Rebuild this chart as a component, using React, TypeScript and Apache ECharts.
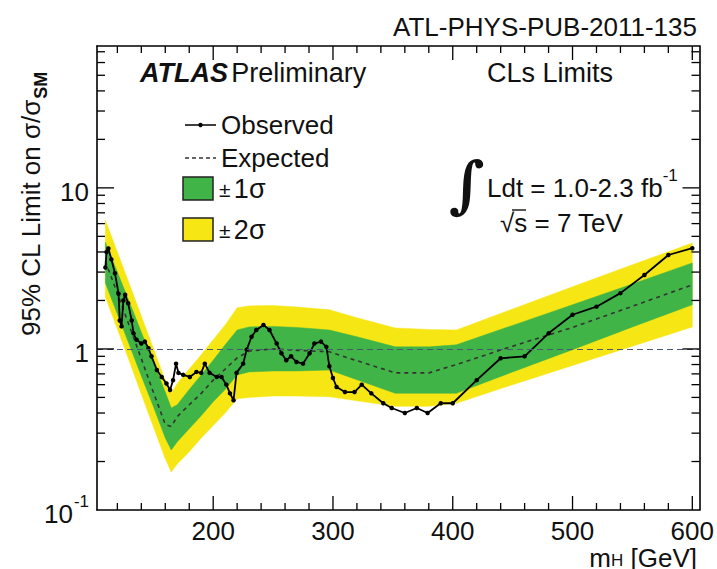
import React, { useEffect, useRef } from 'react';
import * as echarts from 'echarts';

const FONT = '"Liberation Sans", Arial, Helvetica, sans-serif';

// Expected-limit band, sampled in Higgs mass (GeV)
const bandMass = [110, 120, 130, 140, 150, 160, 165, 170, 180, 190, 200, 210, 220, 230, 250, 270, 297, 320, 352, 380, 403, 450, 500, 550, 600];
const expectedLimit = [3.5, 2.21, 1.39, 0.87, 0.54, 0.34, 0.33, 0.38, 0.45, 0.53, 0.64, 0.75, 0.88, 0.97, 1.0, 0.98, 0.96, 0.845, 0.71, 0.71, 0.8, 1.04, 1.36, 1.84, 2.5];
const plusTwoSigma = [6.3, 4.0, 2.53, 1.6, 1.01, 0.64, 0.53, 0.61, 0.75, 0.92, 1.14, 1.41, 1.8, 1.85, 1.86, 1.82, 1.75, 1.56, 1.35, 1.32, 1.31, 1.77, 2.43, 3.33, 4.55];
const plusOneSigma = [4.6, 3.0, 1.96, 1.27, 0.83, 0.54, 0.43, 0.45, 0.56, 0.69, 0.85, 1.06, 1.31, 1.37, 1.38, 1.36, 1.31, 1.19, 1.03, 1.03, 1.06, 1.4, 1.88, 2.53, 3.42];
const minusOneSigma = [2.57, 1.65, 1.06, 0.68, 0.44, 0.28, 0.236, 0.265, 0.32, 0.385, 0.47, 0.56, 0.69, 0.72, 0.73, 0.73, 0.74, 0.644, 0.53, 0.53, 0.53, 0.72, 0.99, 1.37, 1.88];
const minusTwoSigma = [2.1, 1.33, 0.84, 0.525, 0.33, 0.208, 0.172, 0.193, 0.23, 0.28, 0.335, 0.4, 0.49, 0.5, 0.51, 0.51, 0.505, 0.476, 0.44, 0.44, 0.46, 0.6, 0.79, 1.04, 1.37];

// Observed limit
const observedMass = [110, 111, 112.5, 115, 118, 121, 122, 123.5, 125, 126.5, 129, 132, 133.5, 136, 140, 143, 146, 148.5, 153, 157, 161, 164, 166.5, 169, 171, 175, 180.5, 186, 190, 193, 197, 203, 207, 211, 214, 217, 219.5, 225, 228, 232, 236, 242, 247, 253, 257, 261, 265, 269.5, 275, 280.5, 284.5, 290, 294.5, 297, 300, 303, 310, 318, 324, 332, 342, 349, 360, 370, 379, 390, 400, 420, 440, 460, 480, 500, 520, 540, 560, 580, 600];
const observedLimit = [3.2, 4.0, 4.2, 3.6, 2.95, 2.2, 1.5, 1.38, 2.0, 2.17, 1.92, 1.5, 1.25, 1.14, 1.08, 1.11, 1.01, 0.9, 0.74, 0.67, 0.61, 0.556, 0.64, 0.81, 0.71, 0.69, 0.67, 0.72, 0.71, 0.81, 0.71, 0.67, 0.67, 0.6, 0.53, 0.48, 0.71, 0.81, 0.99, 1.19, 1.31, 1.41, 1.31, 1.08, 0.94, 0.85, 0.9, 0.83, 0.81, 0.94, 1.08, 1.11, 1.03, 0.78, 0.66, 0.58, 0.54, 0.54, 0.6, 0.53, 0.46, 0.43, 0.4, 0.43, 0.4, 0.46, 0.46, 0.64, 0.875, 0.9, 1.25, 1.63, 1.83, 2.22, 2.88, 3.83, 4.22];

// Axis ticks and labels
const xMajorTicks = [200, 300, 400, 500, 600];
const xMinorTicks = [120, 140, 160, 180, 220, 240, 260, 280, 320, 340, 360, 380, 420, 440, 460, 480, 520, 540, 560, 580];
const yLabelValues = [0.1, 1, 10];
const yMajorTicks = [1, 10];
const yMinorTicks = [0.2, 0.3, 0.4, 0.5, 0.6, 0.7, 0.8, 0.9, 2, 3, 4, 5, 6, 7, 8, 9, 20, 30, 40, 50, 60, 70];

const X_MIN = 103;
const X_MAX = 606;
const Y_MIN = 0.1;
const Y_MAX = 76;

const GREEN = '#41b447';
const YELLOW = '#f6e614';

function bandSeries(lower: number[], upper: number[], color: string) {
  return {
    type: 'custom',
    xAxisIndex: 0,
    yAxisIndex: 0,
    silent: true,
    clip: true,
    data: [[bandMass[0], upper[0]]],
    renderItem: (_params: any, api: any) => {
      const pts: number[][] = [];
      for (let i = 0; i < bandMass.length; i++) pts.push(api.coord([bandMass[i], upper[i]]));
      for (let i = bandMass.length - 1; i >= 0; i--) pts.push(api.coord([bandMass[i], lower[i]]));
      return { type: 'polygon', shape: { points: pts }, style: { fill: color, stroke: color, lineWidth: 0.5 } };
    },
  };
}

const frame = { show: true, onZero: false, lineStyle: { color: '#000', width: 1.6 } };

function xAxis(position: 'top' | 'bottom', labels: boolean) {
  return {
    type: 'value',
    position,
    min: X_MIN,
    max: X_MAX,
    axisLine: frame,
    axisTick: { show: false },
    axisLabel: labels
      ? { show: true, customValues: xMajorTicks, fontFamily: FONT, fontSize: 26, color: '#111', margin: 8 }
      : { show: false },
    splitLine: { show: false },
  };
}

function yAxis(position: 'left' | 'right', labels: boolean) {
  return {
    type: 'log',
    logBase: 10,
    position,
    min: Y_MIN,
    max: Y_MAX,
    axisLine: frame,
    axisTick: { show: false },
    axisLabel: labels
      ? {
          show: true,
          customValues: yLabelValues,
          margin: 8,
          formatter: (v: number) => (v < 0.5 ? '{m|10}{s|-1}' : v < 5 ? '{m|1}' : '{m|10}'),
          rich: {
            m: { fontFamily: FONT, fontSize: 26, color: '#111', lineHeight: 34, verticalAlign: 'bottom' },
            s: { fontFamily: FONT, fontSize: 17, color: '#111', lineHeight: 34, verticalAlign: 'top', padding: [0, 0, 0, 1] },
          },
        }
      : { show: false },
    splitLine: { show: false },
  };
}

// Inward tick marks on all four sides, positioned with the chart's own axis scales
function tickGraphics(chart: echarts.ECharts) {
  const px = (m: number, v: number) => chart.convertToPixel({ gridIndex: 0 }, [m, v]) as number[];
  const out: any[] = [];
  const style = () => ({ stroke: '#000', lineWidth: 1.3 });
  const bottom = px(X_MIN, Y_MIN)[1];
  const top = px(X_MIN, Y_MAX)[1];
  const left = px(X_MIN, Y_MIN)[0];
  const right = px(X_MAX, Y_MIN)[0];
  const vTick = (m: number, len: number) => {
    const x = px(m, Y_MIN)[0];
    out.push({ type: 'line', z: 100, silent: true, shape: { x1: x, y1: bottom, x2: x, y2: bottom - len }, style: style() });
    out.push({ type: 'line', z: 100, silent: true, shape: { x1: x, y1: top, x2: x, y2: top + len }, style: style() });
  };
  const hTick = (v: number, len: number) => {
    const y = px(X_MIN, v)[1];
    out.push({ type: 'line', z: 100, silent: true, shape: { x1: left, y1: y, x2: left + len, y2: y }, style: style() });
    out.push({ type: 'line', z: 100, silent: true, shape: { x1: right, y1: y, x2: right - len, y2: y }, style: style() });
  };
  xMajorTicks.forEach((m) => vTick(m, 14));
  xMinorTicks.forEach((m) => vTick(m, 7));
  yMajorTicks.forEach((v) => hTick(v, 17));
  yMinorTicks.forEach((v) => hTick(v, 8));
  return out;
}

function legendAndText() {
  const t = (x: number, y: number, text: string, extra: any = {}) => ({
    type: 'text',
    x,
    y,
    style: { text, fontFamily: FONT, fontSize: 26, fill: '#111', align: 'left', verticalAlign: 'middle', ...extra },
  });
  return [
    t(697, 27, 'ATL-PHYS-PUB-2011-135', { align: 'right' }),
    {
      type: 'text',
      x: 140,
      y: 73,
      style: {
        text: '{b|ATLAS} {n|Preliminary}',
        verticalAlign: 'middle',
        rich: {
          b: { fontFamily: FONT, fontSize: 27, fontWeight: 'bold', fontStyle: 'italic', fill: '#111' },
          n: { fontFamily: FONT, fontSize: 27, fill: '#111' },
        },
      },
    },
    t(487, 73, 'CLs Limits', { fontSize: 27 }),
    // legend: observed
    { type: 'line', shape: { x1: 185, y1: 125, x2: 216, y2: 125 }, style: { stroke: '#000', lineWidth: 1.5 } },
    { type: 'circle', shape: { cx: 200.5, cy: 125, r: 2.2 }, style: { fill: '#000' } },
    t(221, 125, 'Observed'),
    // legend: expected
    { type: 'line', shape: { x1: 185, y1: 158, x2: 216, y2: 158 }, style: { stroke: '#333', lineWidth: 1.5, lineDash: [4, 3] } },
    t(221, 158, 'Expected'),
    // legend: bands
    { type: 'rect', shape: { x: 183, y: 177, width: 30, height: 23 }, style: { fill: GREEN, stroke: '#222', lineWidth: 1.5 } },
    {
      type: 'text',
      x: 219,
      y: 189,
      style: {
        text: '{p|±} {n|1σ}',
        verticalAlign: 'middle',
        rich: { p: { fontFamily: FONT, fontSize: 21, fill: '#111' }, n: { fontFamily: FONT, fontSize: 27, fill: '#111' } },
      },
    },
    { type: 'rect', shape: { x: 183, y: 218, width: 30, height: 23 }, style: { fill: YELLOW, stroke: '#222', lineWidth: 1.5 } },
    {
      type: 'text',
      x: 219,
      y: 230,
      style: {
        text: '{p|±} {n|2σ}',
        verticalAlign: 'middle',
        rich: { p: { fontFamily: FONT, fontSize: 21, fill: '#111' }, n: { fontFamily: FONT, fontSize: 27, fill: '#111' } },
      },
    },
    // luminosity and energy
    t(449, 184, '∫', { fontFamily: '"DejaVu Serif", serif', fontSize: 62, fontWeight: 'bold' }),
    {
      type: 'text',
      x: 487,
      y: 184,
      style: {
        text: '{n|Ldt = 1.0-2.3 fb}{s|-1}',
        verticalAlign: 'middle',
        rich: {
          n: { fontFamily: FONT, fontSize: 26, fill: '#111', lineHeight: 34, verticalAlign: 'bottom' },
          s: { fontFamily: FONT, fontSize: 17, fill: '#111', lineHeight: 34, verticalAlign: 'top' },
        },
      },
    },
    t(500, 223, '√s = 7 TeV'),
    { type: 'line', shape: { x1: 512, y1: 210, x2: 526, y2: 210 }, style: { stroke: '#111', lineWidth: 1.4 } },
    // axis titles
    {
      type: 'text',
      x: 697,
      y: 557,
      style: {
        text: '{n|m}{s|H}{n| [GeV]}',
        align: 'right',
        verticalAlign: 'middle',
        rich: {
          n: { fontFamily: FONT, fontSize: 26, fill: '#111', lineHeight: 24, verticalAlign: 'top' },
          s: { fontFamily: FONT, fontSize: 17, fill: '#111', lineHeight: 24, verticalAlign: 'bottom' },
        },
      },
    },
    {
      type: 'text',
      x: 34,
      y: 336,
      rotation: Math.PI / 2,
      style: {
        text: '{n|95% CL Limit on σ/σ}{s|SM}',
        align: 'left',
        verticalAlign: 'middle',
        rich: {
          n: { fontFamily: FONT, fontSize: 26, fill: '#111', lineHeight: 32, verticalAlign: 'top' },
          s: { fontFamily: FONT, fontSize: 18, fontWeight: 'bold', fill: '#111', lineHeight: 32, verticalAlign: 'bottom' },
        },
      },
    },
  ];
}

export default function App() {
  const ref = useRef<HTMLDivElement>(null);

  useEffect(() => {
    if (!ref.current) return;
    const chart = echarts.init(ref.current, null, { renderer: 'svg' });
    chart.setOption({
      animation: false,
      backgroundColor: '#fff',
      grid: { left: 97, right: 16, top: 46, bottom: 59 },
      xAxis: [xAxis('bottom', true), xAxis('top', false)],
      yAxis: [yAxis('left', true), yAxis('right', false)],
      series: [
        bandSeries(minusTwoSigma, plusTwoSigma, YELLOW),
        bandSeries(minusOneSigma, plusOneSigma, GREEN),
        {
          type: 'line',
          name: 'Expected',
          data: bandMass.map((m, i) => [m, expectedLimit[i]]),
          symbol: 'none',
          lineStyle: { color: '#333', width: 1.6, type: [4, 4] },
          markLine: {
            silent: true,
            symbol: ['none', 'none'],
            label: { show: false },
            lineStyle: { color: '#4a5878', width: 1.2, type: [6, 4] },
            data: [{ yAxis: 1 }],
          },
          z: 3,
        },
        {
          type: 'line',
          name: 'Observed',
          data: observedMass.map((m, i) => [m, observedLimit[i]]),
          symbol: 'circle',
          symbolSize: 4.5,
          showAllSymbol: true,
          itemStyle: { color: '#000' },
          lineStyle: { color: '#000', width: 1.8 },
          z: 4,
        },
      ],
    });
    chart.setOption({ graphic: [...legendAndText(), ...tickGraphics(chart)] });
    return () => chart.dispose();
  }, []);

  return (
    <div
      ref={ref}
      style={{ position: 'fixed', left: 0, top: 0, width: 717, height: 569, background: '#fff' }}
    />
  );
}
